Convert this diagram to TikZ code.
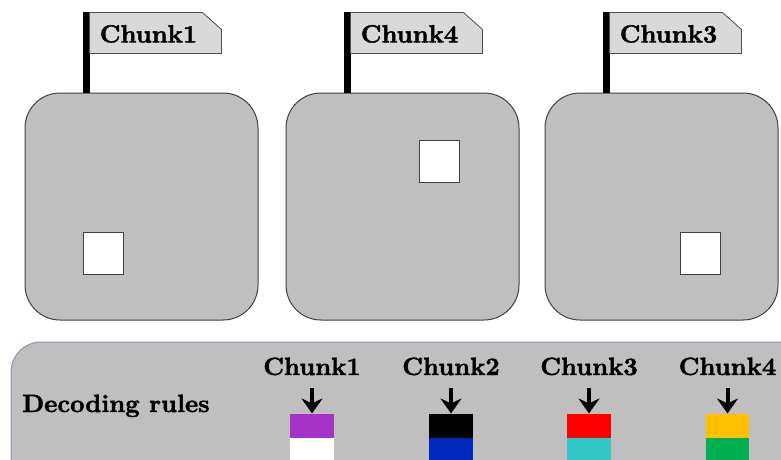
\documentclass[tikz,border=0pt]{standalone}
\usepackage{fontspec}
\newfontfamily\heavyfont{lmroman10-bold.otf}[FakeBold=1.6]
\usetikzlibrary{positioning, calc, arrows.meta}
\definecolor{boxgray}{RGB}{191,191,191}
\definecolor{flaggray}{RGB}{217,217,217}
\definecolor{panelline}{RGB}{132,151,176}
\definecolor{rulepurple}{RGB}{166,50,200}
\definecolor{ruleblue}{RGB}{0,40,190}
\definecolor{rulered}{RGB}{255,0,0}
\definecolor{rulecyan}{RGB}{51,200,200}
\definecolor{ruleamber}{RGB}{255,192,0}
\definecolor{rulegreen}{RGB}{0,176,80}

\begin{document}
\begin{tikzpicture}[x=1pt,y=-1pt,
            chunkbox/.style={draw=black!75,fill=boxgray,rounded corners=35pt,
              minimum width=233pt,minimum height=227pt,line width=1pt},
            cell/.style={draw=black!75,fill=white,minimum width=40pt,
              minimum height=42pt,inner sep=0pt,line width=1pt},
            flag/.style={draw=black!70,fill=flaggray,line width=0.8pt},
            pole/.style={line width=7pt},
            lbl/.style={font=\heavyfont\fontsize{25}{30}\selectfont,inner sep=0pt},
            bar/.style={minimum width=43.5pt,minimum height=24pt,inner sep=0pt},
            rulearrow/.style={-{Stealth[length=15pt,width=21pt,inset=5pt]},
              line width=4pt,shorten <=13pt}]
            \useasboundingbox (0,0) rectangle (781,460);
            \clip (0,0) rectangle (781,460);

            % chunks with their cells
            \node[chunkbox] (box1) at (141.5,206.5) {};
            \node[chunkbox] (box2) [right=27pt of box1] {};
            \node[chunkbox] (box3) [right=25pt of box2] {};
            \node[cell] (cell1) at (103,253) {};
            \node[cell] (cell4) at (439,161.5) {};
            \node[cell] (cell3) at (700,253) {};

            % flags
            \foreach \b/\n in {box1/1, box2/4, box3/3} {
              \coordinate (top\n) at ($(\b.north west)+(62,-80)$);
              \draw[pole] ($(\b.north west)+(62,0)$) -- (top\n);
              \draw[flag] ($(top\n)+(3,0)$) -- ++(113,0) -- ++(19,17)
                -- ++(0,24) -- ++(-132,0) -- cycle;
              \node[lbl,anchor=base] (flag\n) at ($(top\n)+(62,30)$) {Chunk\n};
            }

            % decoding rules
            \draw[draw=panelline,fill=boxgray,line width=1pt,rounded corners=30pt]
              (11,342) rectangle (830,520);
            \node[lbl,anchor=base west] (rules) at (22,412) {Decoding rules};

            \node[lbl,anchor=base] (lab1) at (312,375) {Chunk1};
            \node[lbl,anchor=base] (lab2) at (451,375) {Chunk2};
            \node[lbl,anchor=base] (lab3) at (589,375) {Chunk3};
            \node[lbl,anchor=base] (lab4) at (727.5,375) {Chunk4};

            \node[bar,fill=rulepurple] (top1) [below=38pt of lab1] {};
            \node[bar,fill=white]      (bot1) [below=0pt of top1] {};
            \node[bar,fill=black]      (top2) [below=38pt of lab2] {};
            \node[bar,fill=ruleblue]   (bot2) [below=0pt of top2] {};
            \node[bar,fill=rulered]    (top3) [below=38pt of lab3] {};
            \node[bar,fill=rulecyan]   (bot3) [below=0pt of top3] {};
            \node[bar,fill=ruleamber]  (top4) [below=38pt of lab4] {};
            \node[bar,fill=rulegreen]  (bot4) [below=0pt of top4] {};

            \foreach \n in {1,2,3,4}
              \draw[rulearrow] (lab\n.south) -- (top\n.north);
            \end{tikzpicture}
\end{document}
